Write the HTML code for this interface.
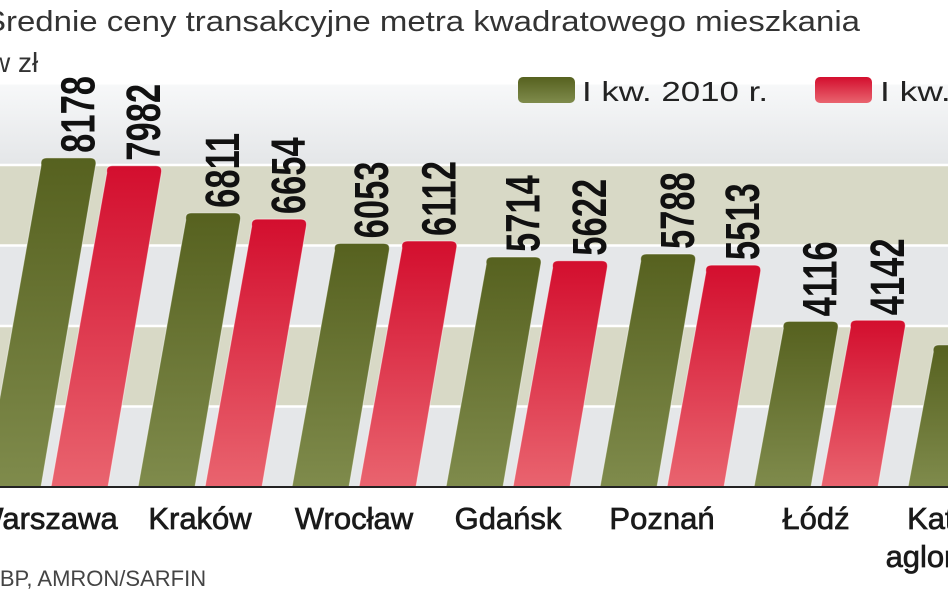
<!DOCTYPE html>
<html><head><meta charset="utf-8"><style>
html,body{margin:0;padding:0;background:#fff;}
svg{display:block;font-family:"Liberation Sans",sans-serif;}
</style></head><body>
<svg id="chart" width="948" height="593" viewBox="0 0 948 593" xmlns="http://www.w3.org/2000/svg">
<defs>
<linearGradient id="gTop" x1="0" y1="0" x2="0" y2="1"><stop offset="0" stop-color="#f7f8f9"/><stop offset="1" stop-color="#e4e6e8"/></linearGradient>
<linearGradient id="gGreen" x1="0" y1="0" x2="0" y2="1"><stop offset="0" stop-color="#56611f"/><stop offset="1" stop-color="#7f8b4c"/></linearGradient>
<linearGradient id="gRed" x1="0" y1="0" x2="0" y2="1"><stop offset="0" stop-color="#d30e2e"/><stop offset="1" stop-color="#e9646f"/></linearGradient>
</defs>
<text x="-16" y="31" font-size="29" fill="#333" textLength="876" lengthAdjust="spacingAndGlyphs">Średnie ceny transakcyjne metra kwadratowego mieszkania</text>
<text x="-10" y="72" font-size="28" fill="#333">w zł</text>
<g id="bands"></g>
<g>
<rect x="518" y="77" width="57" height="26" rx="5" fill="url(#gGreen)"/>
<text x="582" y="101" font-size="28" fill="#222" textLength="186" lengthAdjust="spacingAndGlyphs">I kw. 2010 r.</text>
<rect x="815" y="77" width="57" height="26" rx="5" fill="url(#gRed)"/>
<text x="880" y="101" font-size="28" fill="#222" textLength="186" lengthAdjust="spacingAndGlyphs">I kw. 2011 r.</text>
</g>
<g id="bars"></g>
<g id="labels"></g>
<text x="-16" y="586" font-size="22" fill="#444">NBP, AMRON/SARFIN</text>
</svg>
<script>
const categories = ["Warszawa","Kraków","Wrocław","Gdańsk","Poznań","Łódź","Katowice"];
const series2010 = [8178,6811,6053,5714,5788,4116,3530];
const series2011 = [7982,6654,6112,5622,5513,4142,3600];
const gridTicks = [0,2000,4000,6000,8000,10000];

const NS="http://www.w3.org/2000/svg";
const base=487, pxPer=80.5/2000, slant=0.17, bw=57, gap=10, step=154, x0=-16;
const yScale=v=>base-v*pxPer;
const xGroup=i=>x0+i*step;
function mk(tag,attrs,parent){const e=document.createElementNS(NS,tag);for(const k in attrs)e.setAttribute(k,attrs[k]);parent.appendChild(e);return e;}
const bands=document.getElementById('bands'),bars=document.getElementById('bars'),labels=document.getElementById('labels');
for(let k=0;k<gridTicks.length-1;k++){
  const y1=yScale(gridTicks[k+1]),y0=yScale(gridTicks[k]);
  const fill=k===gridTicks.length-2?"url(#gTop)":(k%2===1?"#d8d9c6":"#e5e7e9");
  const r=mk('rect',{x:0,y:y1,width:948,height:y0-y1,fill:fill},bands);
  
  
}
for(let k=1;k<gridTicks.length-1;k++){
  const l=mk('line',{x1:0,x2:948,y1:yScale(gridTicks[k]),y2:yScale(gridTicks[k]),stroke:"#fff","stroke-width":2.5},bands);
  
  
}
function bar(bl,v,fill,name){
  const top=yScale(v),h=base-top,r=7;
  const tl=bl+slant*h;
  const d=`M${bl},${base} L${tl+slant*r},${top+r} Q${tl},${top} ${tl+r},${top} L${tl+bw-r},${top} Q${tl+bw},${top} ${tl+bw-slant*r},${top+r} L${bl+bw},${base} Z`;
  const p=mk('path',{d:d,fill:fill,stroke:"#fff","stroke-opacity":0.5,"stroke-width":1},bars);
  
  
  const cx=tl+bw/2+8;
  const t=mk('text',{transform:`translate(${cx+18},${top-5}) rotate(-90) scale(0.72,1)`,"font-size":48,"font-weight":"bold",fill:"#111"},labels);
  t.textContent=v;
  
  
}
categories.forEach((c,i)=>{
  const g=xGroup(i);
  bar(g,series2010[i],"url(#gGreen)","bar-2010-"+i);
  bar(g+bw+gap,series2011[i],"url(#gRed)","bar-2011-"+i);
  const cx=g+bw+gap/2;
  const t=mk('text',{x:cx,y:529,"font-size":31,fill:"#1a1a1a",stroke:"#1a1a1a","stroke-width":0.7,"text-anchor":"middle"},labels);
  t.textContent=c;
  
  
  if(c==="Katowice"){
    const t2=mk('text',{x:cx,y:567,"font-size":31,fill:"#1a1a1a",stroke:"#1a1a1a","stroke-width":0.7,"text-anchor":"middle"},labels);
    t2.textContent="aglomeracja";
    
    
  }
});
const ax=mk('line',{x1:0,x2:948,y1:base,y2:base,stroke:"#222","stroke-width":2},labels);


</script>
</body></html>
